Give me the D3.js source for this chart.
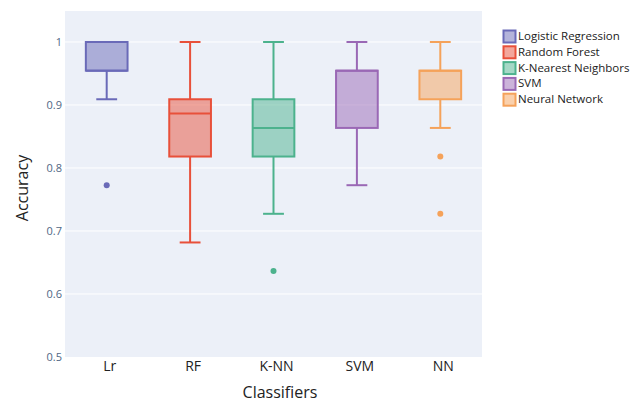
<!DOCTYPE html>
<html>
<head>
<meta charset="utf-8">
<script src="https://cdn.jsdelivr.net/npm/d3@7"></script>
<style>
	body { margin: 0; background: #fff; }
	svg text { font-family: "Open Sans", "Noto Sans", sans-serif; }
</style>
</head>
<body>
<svg id="chart" width="637" height="402"></svg>
<script>
//box plot stats for each classifier
var classifiers = ["Lr", "RF", "K-NN", "SVM", "NN"];
var legendNames = ["Logistic Regression", "Random Forest", "K-Nearest Neighbors", "SVM", "Neural Network"];
var colors = ["#6a6ab8", "#e8503a", "#4cb28d", "#9a68b5", "#f5a25a"];
var lowerFence = [0.9091, 0.6818, 0.7273, 0.7727, 0.8636];
var q1 = [0.9545, 0.8182, 0.8182, 0.8636, 0.9091];
var median = [0.9545, 0.8864, 0.8636, 0.9545, 0.9545];
var q3 = [1.0, 0.9091, 0.9091, 0.9545, 0.9545];
var upperFence = [1.0, 1.0, 1.0, 1.0, 1.0];
var outliers = [[0.7727], [], [0.6364], [], [0.8182, 0.7273]];
var yTicks = [0.5, 0.6, 0.7, 0.8, 0.9, 1];

var svg = d3.select("#chart");
var margin = {left: 65, right: 155, top: 11, bottom: 45};
var width = 637 - margin.left - margin.right;
var height = 402 - margin.top - margin.bottom;

var plot = svg.append("g").attr("transform", "translate(" + margin.left + "," + margin.top + ")");

var x = d3.scaleBand().domain(classifiers).range([0, width]);
var y = d3.scaleLinear().domain([0.5, 1.0492]).range([height, 0]);

//background + grid
plot.append("rect")
	.attr("width", width)
	.attr("height", height)
	.style("fill", "#ecf0f8");

plot.selectAll(".grid")
	.data(yTicks.slice(1))
	.enter().append("line")
	.attr("x1", 0)
	.attr("x2", width)
	.attr("y1", function(d){ return y(d); })
	.attr("y2", function(d){ return y(d); })
	.style("stroke", "#fff")
	.style("stroke-width", 1);

//y axis
var yAxis = plot.append("g")
	.call(d3.axisLeft(y).tickValues(yTicks).tickSize(0).tickPadding(3).tickFormat(d3.format("")));
yAxis.select(".domain").remove();
yAxis.selectAll("text")
	.style("font-size", "11px")
	.style("fill", "#506784");

//x axis
var xAxis = plot.append("g")
	.attr("transform", "translate(0," + height + ")")
	.call(d3.axisBottom(x).tickSize(0).tickPadding(4));
xAxis.select(".domain").remove();
xAxis.selectAll("text")
	.attr("dx", "3px")
	.style("font-size", "14px")
	.style("fill", "#222");

//boxes
var stats = classifiers.map(function(c, i){
	return {name: c, lo: lowerFence[i], q1: q1[i], med: median[i], q3: q3[i], hi: upperFence[i], out: outliers[i], color: colors[i]};
});

var boxW = x.bandwidth() / 2;
var capW = boxW / 2;

var groups = plot.selectAll(".box")
	.data(stats)
	.enter().append("g")
	.attr("class", "box")
	.attr("transform", function(d){ return "translate(" + (x(d.name) + x.bandwidth() / 2) + ",0)"; });

//whiskers
groups.append("line")
	.attr("x1", 0).attr("x2", 0)
	.attr("y1", function(d){ return y(d.hi); })
	.attr("y2", function(d){ return y(d.q3); })
	.style("stroke", function(d){ return d.color; })
	.style("stroke-width", 2);
groups.append("line")
	.attr("x1", 0).attr("x2", 0)
	.attr("y1", function(d){ return y(d.q1); })
	.attr("y2", function(d){ return y(d.lo); })
	.style("stroke", function(d){ return d.color; })
	.style("stroke-width", 2);
groups.append("line")
	.attr("x1", -capW / 2).attr("x2", capW / 2)
	.attr("y1", function(d){ return y(d.hi); })
	.attr("y2", function(d){ return y(d.hi); })
	.style("stroke", function(d){ return d.color; })
	.style("stroke-width", 2);
groups.append("line")
	.attr("x1", -capW / 2).attr("x2", capW / 2)
	.attr("y1", function(d){ return y(d.lo); })
	.attr("y2", function(d){ return y(d.lo); })
	.style("stroke", function(d){ return d.color; })
	.style("stroke-width", 2);

groups.append("rect")
	.attr("x", -boxW / 2)
	.attr("width", boxW)
	.attr("y", function(d){ return y(d.q3); })
	.attr("height", function(d){ return y(d.q1) - y(d.q3); })
	.style("fill", function(d){ return d.color; })
	.style("fill-opacity", 0.5)
	.style("stroke", function(d){ return d.color; })
	.style("stroke-width", 2);

groups.append("line")
	.attr("x1", -boxW / 2).attr("x2", boxW / 2)
	.attr("y1", function(d){ return y(d.med); })
	.attr("y2", function(d){ return y(d.med); })
	.style("stroke", function(d){ return d.color; })
	.style("stroke-width", 2);

groups.each(function(d){
	d3.select(this).selectAll(".outlier")
		.data(d.out)
		.enter().append("circle")
		.attr("cx", 0)
		.attr("cy", function(v){ return y(v); })
		.attr("r", 3)
		.style("fill", d.color);
});

//axis titles
svg.append("text")
	.attr("x", 280)
	.attr("y", 398)
	.attr("text-anchor", "middle")
	.style("font-size", "16px")
	.style("fill", "#222")
	.text("Classifiers");

svg.append("text")
	.attr("transform", "translate(28,188) rotate(-90)")
	.attr("text-anchor", "middle")
	.style("font-size", "16px")
	.style("fill", "#222")
	.text("Accuracy");

//legend
var legend = svg.append("g").attr("transform", "translate(503,36)");
legendNames.forEach(function(name, i){
	var row = legend.append("g").attr("transform", "translate(0," + (i * 15.8) + ")");
	row.append("rect")
		.attr("x", 0.5).attr("y", -5.5)
		.attr("width", 12).attr("height", 12)
		.style("fill", colors[i])
		.style("fill-opacity", 0.5)
		.style("stroke", colors[i])
		.style("stroke-width", 2);
	row.append("text")
		.attr("x", 15)
		.attr("y", 0)
		.attr("dy", "0.35em")
		.style("font-size", "11.5px")
		.style("fill", "#222")
		.text(name);
});
</script>
</body>
</html>
